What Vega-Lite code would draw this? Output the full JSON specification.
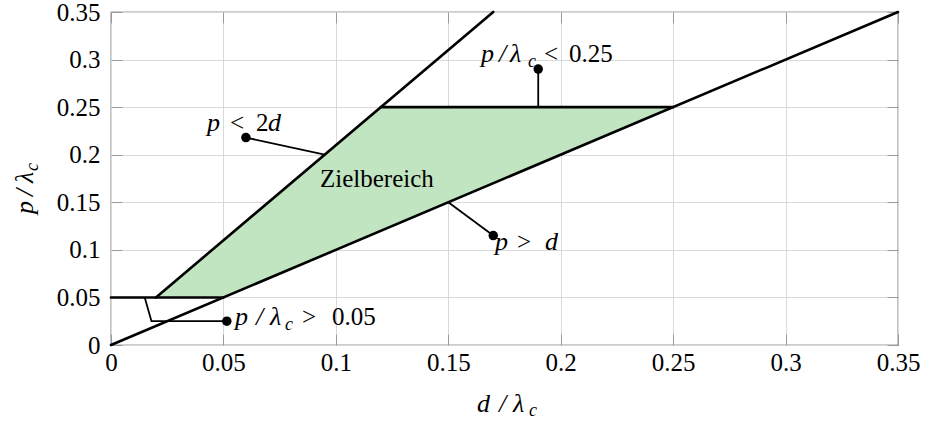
{
  "$schema": "https://vega.github.io/schema/vega-lite/v6.json",
  "width": 787,
  "height": 333,
  "autosize": {"type": "none"},
  "padding": {"left": 111, "top": 12, "right": 27, "bottom": 78},
  "background": "white",
  "config": {
    "view": {"stroke": "#3a3a3a", "strokeWidth": 1.2},
    "font": "'Liberation Serif', 'DejaVu Serif', serif",
    "axis": {
      "labelFont": "'Liberation Serif', 'DejaVu Serif', serif",
      "labelFontSize": 25,
      "labelColor": "black",
      "gridColor": "#d9d9d9",
      "gridWidth": 1,
      "gridOpacity": 1,
      "tickColor": "#9a9a9a",
      "tickWidth": 1,
      "tickSize": -11,
      "domain": false,
      "title": null
    }
  },
  "datasets": {
    "region": [
      {"d": 0.02, "lo": 0.05, "hi": 0.05},
      {"d": 0.05, "lo": 0.05, "hi": 0.11},
      {"d": 0.12, "lo": 0.12, "hi": 0.25},
      {"d": 0.25, "lo": 0.25, "hi": 0.25}
    ],
    "bounds": [
      {"seg": "p<2d", "i": 0, "d": 0.02, "p": 0.05},
      {"seg": "p<2d", "i": 1, "d": 0.17, "p": 0.35},
      {"seg": "p>d", "i": 0, "d": 0.0, "p": 0.0},
      {"seg": "p>d", "i": 1, "d": 0.35, "p": 0.35},
      {"seg": "min", "i": 0, "d": 0.0, "p": 0.05},
      {"seg": "min", "i": 1, "d": 0.05, "p": 0.05},
      {"seg": "max", "i": 0, "d": 0.12, "p": 0.25},
      {"seg": "max", "i": 1, "d": 0.25, "p": 0.25}
    ],
    "pins": [
      {"pin": "max", "i": 0, "d": 0.19, "p": 0.25},
      {"pin": "max", "i": 1, "d": 0.19, "p": 0.29},
      {"pin": "p<2d", "i": 0, "d": 0.095, "p": 0.2},
      {"pin": "p<2d", "i": 1, "d": 0.06, "p": 0.218},
      {"pin": "p>d", "i": 0, "d": 0.15, "p": 0.15},
      {"pin": "p>d", "i": 1, "d": 0.17, "p": 0.115},
      {"pin": "min", "i": 0, "d": 0.015, "p": 0.05},
      {"pin": "min", "i": 1, "d": 0.018, "p": 0.025},
      {"pin": "min", "i": 2, "d": 0.0515, "p": 0.025}
    ],
    "dots": [
      {"pin": "max", "d": 0.19, "p": 0.29},
      {"pin": "p<2d", "d": 0.06, "p": 0.218},
      {"pin": "p>d", "d": 0.17, "p": 0.115},
      {"pin": "min", "d": 0.0515, "p": 0.025}
    ],
    "labels": [
      {"t": "p", "d": 0.16455, "p": 0.29745, "k": "it"},
      {"t": "/", "d": 0.17256, "p": 0.29745, "k": "it"},
      {"t": "λ", "d": 0.17745, "p": 0.29745, "k": "it"},
      {"t": "c", "d": 0.18546, "p": 0.29219, "k": "sub"},
      {"t": "<", "d": 0.19257, "p": 0.29745, "k": "rm"},
      {"t": "0.25", "d": 0.20369, "p": 0.29745, "k": "rm"},

      {"t": "p", "d": 0.05515, "p": 0.02102, "k": "it"},
      {"t": "/", "d": 0.0645, "p": 0.02102, "k": "it"},
      {"t": "λ", "d": 0.07071, "p": 0.02102, "k": "it"},
      {"t": "c", "d": 0.07739, "p": 0.01577, "k": "sub"},
      {"t": ">", "d": 0.08494, "p": 0.02102, "k": "rm"},
      {"t": "0.05", "d": 0.09829, "p": 0.02102, "k": "rm"},

      {"t": "p", "d": 0.04269, "p": 0.22493, "k": "it"},
      {"t": "<", "d": 0.05292, "p": 0.22493, "k": "rm"},
      {"t": "2", "d": 0.06449, "p": 0.22493, "k": "rm"},
      {"t": "d", "d": 0.06982, "p": 0.22493, "k": "it"},

      {"t": "p", "d": 0.17078, "p": 0.09985, "k": "it"},
      {"t": ">", "d": 0.18056, "p": 0.09985, "k": "rm"},
      {"t": "d", "d": 0.19301, "p": 0.09985, "k": "it"},

      {"t": "Zielbereich", "d": 0.09295, "p": 0.16607, "k": "rm"},

      {"t": "d", "d": 0.16277, "p": -0.07042, "k": "it"},
      {"t": "/", "d": 0.17256, "p": -0.07042, "k": "it"},
      {"t": "λ", "d": 0.17878, "p": -0.07042, "k": "it"},
      {"t": "c", "d": 0.1859, "p": -0.07462, "k": "sub"},

      {"t": "p", "d": -0.03469, "p": 0.13769, "k": "itv"},
      {"t": "/", "d": -0.03469, "p": 0.1566, "k": "itv"},
      {"t": "λ", "d": -0.03469, "p": 0.17027, "k": "itv"},
      {"t": "c", "d": -0.0325, "p": 0.18289, "k": "subv"}
    ]
  },
  "resolve": {"axis": {"x": "independent", "y": "independent"}},
  "layer": [
    {
      "data": {"name": "region"},
      "mark": {"type": "area", "color": "#c1e4c1", "opacity": 1},
      "encoding": {
        "x": {
          "field": "d", "type": "quantitative",
          "scale": {"domain": [0, 0.35], "nice": false, "zero": false},
          "axis": {
            "orient": "bottom",
            "values": [0, 0.05, 0.1, 0.15, 0.2, 0.25, 0.3, 0.35],
            "format": ".2~f",
            "labelPadding": 16,
            "labelFlush": false,
            "grid": true
          }
        },
        "y": {
          "field": "lo", "type": "quantitative",
          "scale": {"domain": [0, 0.35], "nice": false, "zero": false},
          "axis": {
            "orient": "left",
            "values": [0, 0.05, 0.1, 0.15, 0.2, 0.25, 0.3, 0.35],
            "format": ".2~f",
            "labelPadding": 22,
            "labelFlush": false,
            "grid": true
          }
        },
        "y2": {"field": "hi"}
      }
    },
    {
      "data": {"name": "bounds"},
      "mark": {"type": "line", "color": "black", "strokeWidth": 2.6, "strokeCap": "round"},
      "encoding": {
        "x": {
          "field": "d", "type": "quantitative",
          "axis": {
            "orient": "top",
            "values": [0, 0.05, 0.1, 0.15, 0.2, 0.25, 0.3, 0.35],
            "labels": false,
            "grid": false
          }
        },
        "y": {
          "field": "p", "type": "quantitative",
          "axis": {
            "orient": "right",
            "values": [0, 0.05, 0.1, 0.15, 0.2, 0.25, 0.3, 0.35],
            "labels": false,
            "grid": false
          }
        },
        "detail": {"field": "seg"},
        "order": {"field": "i"}
      }
    },
    {
      "data": {"name": "pins"},
      "mark": {"type": "line", "color": "black", "strokeWidth": 1.8},
      "encoding": {
        "x": {"field": "d", "type": "quantitative", "axis": null},
        "y": {"field": "p", "type": "quantitative", "axis": null},
        "detail": {"field": "pin"},
        "order": {"field": "i"}
      }
    },
    {
      "data": {"name": "dots"},
      "mark": {"type": "point", "filled": true, "color": "black", "size": 90, "opacity": 1},
      "encoding": {
        "x": {"field": "d", "type": "quantitative", "axis": null},
        "y": {"field": "p", "type": "quantitative", "axis": null}
      }
    },
    {
      "data": {"name": "labels"},
      "transform": [{"filter": "datum.k === 'it'"}],
      "mark": {"type": "text", "font": "'Liberation Serif', 'DejaVu Serif', serif", "fontStyle": "italic", "fontSize": 26, "align": "left", "baseline": "alphabetic", "color": "black", "clip": false},
      "encoding": {
        "x": {"field": "d", "type": "quantitative", "axis": null},
        "y": {"field": "p", "type": "quantitative", "axis": null},
        "text": {"field": "t"}
      }
    },
    {
      "data": {"name": "labels"},
      "transform": [{"filter": "datum.k === 'sub'"}],
      "mark": {"type": "text", "font": "'Liberation Serif', 'DejaVu Serif', serif", "fontStyle": "italic", "fontSize": 18, "align": "left", "baseline": "alphabetic", "color": "black", "clip": false},
      "encoding": {
        "x": {"field": "d", "type": "quantitative", "axis": null},
        "y": {"field": "p", "type": "quantitative", "axis": null},
        "text": {"field": "t"}
      }
    },
    {
      "data": {"name": "labels"},
      "transform": [{"filter": "datum.k === 'rm'"}],
      "mark": {"type": "text", "font": "'Liberation Serif', 'DejaVu Serif', serif", "fontSize": 25, "align": "left", "baseline": "alphabetic", "color": "black", "clip": false},
      "encoding": {
        "x": {"field": "d", "type": "quantitative", "axis": null},
        "y": {"field": "p", "type": "quantitative", "axis": null},
        "text": {"field": "t"}
      }
    },
    {
      "data": {"name": "labels"},
      "transform": [{"filter": "datum.k === 'itv'"}],
      "mark": {"type": "text", "font": "'Liberation Serif', 'DejaVu Serif', serif", "fontStyle": "italic", "fontSize": 26, "align": "left", "baseline": "alphabetic", "angle": 270, "color": "black", "clip": false},
      "encoding": {
        "x": {"field": "d", "type": "quantitative", "axis": null},
        "y": {"field": "p", "type": "quantitative", "axis": null},
        "text": {"field": "t"}
      }
    },
    {
      "data": {"name": "labels"},
      "transform": [{"filter": "datum.k === 'subv'"}],
      "mark": {"type": "text", "font": "'Liberation Serif', 'DejaVu Serif', serif", "fontStyle": "italic", "fontSize": 18, "align": "left", "baseline": "alphabetic", "angle": 270, "color": "black", "clip": false},
      "encoding": {
        "x": {"field": "d", "type": "quantitative", "axis": null},
        "y": {"field": "p", "type": "quantitative", "axis": null},
        "text": {"field": "t"}
      }
    }
  ]
}
